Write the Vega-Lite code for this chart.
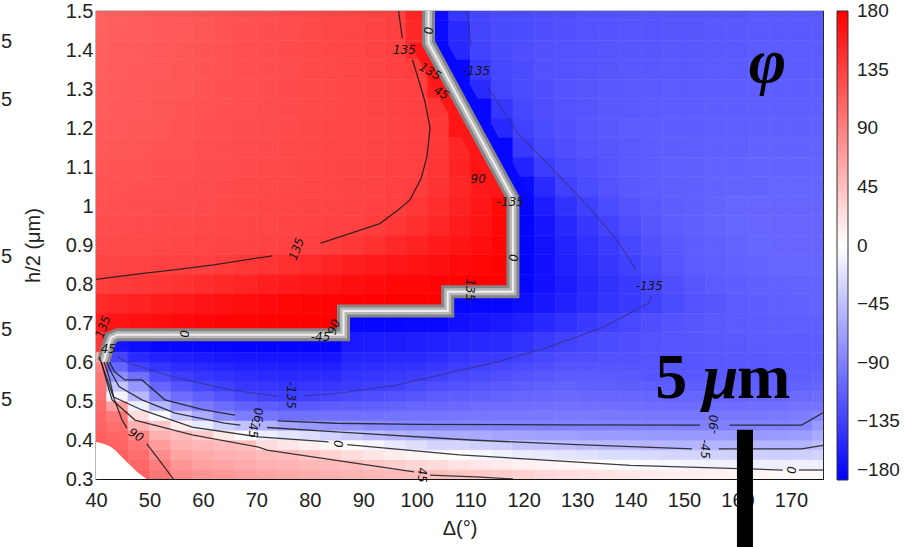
{
"$schema":"https://vega.github.io/schema/vega-lite/v6.json",
"width":727,"height":468,
"autosize":{"type":"none"},
"padding":{"left":96,"top":11,"right":89,"bottom":68},
"background":"white",
"config":{"view":{"stroke":"#111","strokeWidth":1.2},
"axis":{"labelFont":"Liberation Sans","labelFontSize":20,"titleFont":"Liberation Sans","titleFontSize":20,"titleFontWeight":"normal","labelColor":"#222","titleColor":"#222","grid":false,"domain":false,"tickColor":"#222","tickSize":-5,"labelFlush":false,"labelOverlap":false}},
"datasets":{
"lg":[{"v":-180},{"v":180}],
"grid":[
{"d":40,"h":1.5,"v":112},{"d":44,"h":1.5,"v":114},{"d":48,"h":1.5,"v":115},{"d":52,"h":1.5,"v":117},{"d":56,"h":1.5,"v":118},{"d":60,"h":1.5,"v":120},{"d":64,"h":1.5,"v":122},{"d":68,"h":1.5,"v":123},{"d":72,"h":1.5,"v":125},{"d":76,"h":1.5,"v":127},{"d":80,"h":1.5,"v":128},{"d":84,"h":1.5,"v":130},{"d":88,"h":1.5,"v":132},{"d":92,"h":1.5,"v":133},{"d":96,"h":1.5,"v":135},{"d":100,"h":1.5,"v":155},{"d":104,"h":1.5,"v":-172},{"d":108,"h":1.5,"v":-142},{"d":112,"h":1.5,"v":-131},{"d":116,"h":1.5,"v":-128},{"d":120,"h":1.5,"v":-126},{"d":124,"h":1.5,"v":-125},{"d":128,"h":1.5,"v":-124},{"d":132,"h":1.5,"v":-123},{"d":136,"h":1.5,"v":-122},{"d":140,"h":1.5,"v":-121},{"d":144,"h":1.5,"v":-121},{"d":148,"h":1.5,"v":-120},{"d":152,"h":1.5,"v":-120},{"d":156,"h":1.5,"v":-119},{"d":160,"h":1.5,"v":-119},{"d":164,"h":1.5,"v":-118},{"d":168,"h":1.5,"v":-118},{"d":172,"h":1.5,"v":-118},{"d":176,"h":1.5,"v":-118},
{"d":40,"h":1.45,"v":112},{"d":44,"h":1.45,"v":114},{"d":48,"h":1.45,"v":115},{"d":52,"h":1.45,"v":117},{"d":56,"h":1.45,"v":118},{"d":60,"h":1.45,"v":120},{"d":64,"h":1.45,"v":122},{"d":68,"h":1.45,"v":123},{"d":72,"h":1.45,"v":125},{"d":76,"h":1.45,"v":126},{"d":80,"h":1.45,"v":128},{"d":84,"h":1.45,"v":130},{"d":88,"h":1.45,"v":131},{"d":92,"h":1.45,"v":133},{"d":96,"h":1.45,"v":134},{"d":100,"h":1.45,"v":152},{"d":104,"h":1.45,"v":-173},{"d":108,"h":1.45,"v":-150},{"d":112,"h":1.45,"v":-132},{"d":116,"h":1.45,"v":-128},{"d":120,"h":1.45,"v":-126},{"d":124,"h":1.45,"v":-124},{"d":128,"h":1.45,"v":-123},{"d":132,"h":1.45,"v":-122},{"d":136,"h":1.45,"v":-121},{"d":140,"h":1.45,"v":-120},{"d":144,"h":1.45,"v":-120},{"d":148,"h":1.45,"v":-119},{"d":152,"h":1.45,"v":-119},{"d":156,"h":1.45,"v":-118},{"d":160,"h":1.45,"v":-118},{"d":164,"h":1.45,"v":-117},{"d":168,"h":1.45,"v":-117},{"d":172,"h":1.45,"v":-117},{"d":176,"h":1.45,"v":-117},
{"d":40,"h":1.4,"v":113},{"d":44,"h":1.4,"v":115},{"d":48,"h":1.4,"v":116},{"d":52,"h":1.4,"v":118},{"d":56,"h":1.4,"v":119},{"d":60,"h":1.4,"v":121},{"d":64,"h":1.4,"v":122},{"d":68,"h":1.4,"v":124},{"d":72,"h":1.4,"v":125},{"d":76,"h":1.4,"v":127},{"d":80,"h":1.4,"v":128},{"d":84,"h":1.4,"v":130},{"d":88,"h":1.4,"v":131},{"d":92,"h":1.4,"v":133},{"d":96,"h":1.4,"v":134},{"d":100,"h":1.4,"v":148},{"d":104,"h":1.4,"v":-174},{"d":108,"h":1.4,"v":-152},{"d":112,"h":1.4,"v":-133},{"d":116,"h":1.4,"v":-128},{"d":120,"h":1.4,"v":-125},{"d":124,"h":1.4,"v":-123},{"d":128,"h":1.4,"v":-122},{"d":132,"h":1.4,"v":-121},{"d":136,"h":1.4,"v":-120},{"d":140,"h":1.4,"v":-119},{"d":144,"h":1.4,"v":-119},{"d":148,"h":1.4,"v":-118},{"d":152,"h":1.4,"v":-118},{"d":156,"h":1.4,"v":-117},{"d":160,"h":1.4,"v":-117},{"d":164,"h":1.4,"v":-116},{"d":168,"h":1.4,"v":-116},{"d":172,"h":1.4,"v":-116},{"d":176,"h":1.4,"v":-116},
{"d":40,"h":1.35,"v":114},{"d":44,"h":1.35,"v":115},{"d":48,"h":1.35,"v":117},{"d":52,"h":1.35,"v":118},{"d":56,"h":1.35,"v":120},{"d":60,"h":1.35,"v":121},{"d":64,"h":1.35,"v":122},{"d":68,"h":1.35,"v":124},{"d":72,"h":1.35,"v":125},{"d":76,"h":1.35,"v":126},{"d":80,"h":1.35,"v":128},{"d":84,"h":1.35,"v":129},{"d":88,"h":1.35,"v":131},{"d":92,"h":1.35,"v":132},{"d":96,"h":1.35,"v":134},{"d":100,"h":1.35,"v":137},{"d":104,"h":1.35,"v":162},{"d":108,"h":1.35,"v":-174},{"d":112,"h":1.35,"v":-140},{"d":116,"h":1.35,"v":-130},{"d":120,"h":1.35,"v":-126},{"d":124,"h":1.35,"v":-123},{"d":128,"h":1.35,"v":-122},{"d":132,"h":1.35,"v":-120},{"d":136,"h":1.35,"v":-119},{"d":140,"h":1.35,"v":-118},{"d":144,"h":1.35,"v":-118},{"d":148,"h":1.35,"v":-117},{"d":152,"h":1.35,"v":-117},{"d":156,"h":1.35,"v":-116},{"d":160,"h":1.35,"v":-116},{"d":164,"h":1.35,"v":-115},{"d":168,"h":1.35,"v":-115},{"d":172,"h":1.35,"v":-115},{"d":176,"h":1.35,"v":-115},
{"d":40,"h":1.3,"v":115},{"d":44,"h":1.3,"v":116},{"d":48,"h":1.3,"v":118},{"d":52,"h":1.3,"v":119},{"d":56,"h":1.3,"v":120},{"d":60,"h":1.3,"v":121},{"d":64,"h":1.3,"v":123},{"d":68,"h":1.3,"v":124},{"d":72,"h":1.3,"v":125},{"d":76,"h":1.3,"v":127},{"d":80,"h":1.3,"v":128},{"d":84,"h":1.3,"v":129},{"d":88,"h":1.3,"v":131},{"d":92,"h":1.3,"v":132},{"d":96,"h":1.3,"v":133},{"d":100,"h":1.3,"v":135},{"d":104,"h":1.3,"v":158},{"d":108,"h":1.3,"v":-175},{"d":112,"h":1.3,"v":-150},{"d":116,"h":1.3,"v":-132},{"d":120,"h":1.3,"v":-127},{"d":124,"h":1.3,"v":-124},{"d":128,"h":1.3,"v":-121},{"d":132,"h":1.3,"v":-119},{"d":136,"h":1.3,"v":-118},{"d":140,"h":1.3,"v":-117},{"d":144,"h":1.3,"v":-117},{"d":148,"h":1.3,"v":-116},{"d":152,"h":1.3,"v":-116},{"d":156,"h":1.3,"v":-115},{"d":160,"h":1.3,"v":-115},{"d":164,"h":1.3,"v":-114},{"d":168,"h":1.3,"v":-114},{"d":172,"h":1.3,"v":-114},{"d":176,"h":1.3,"v":-114},
{"d":40,"h":1.25,"v":116},{"d":44,"h":1.25,"v":117},{"d":48,"h":1.25,"v":118},{"d":52,"h":1.25,"v":120},{"d":56,"h":1.25,"v":121},{"d":60,"h":1.25,"v":122},{"d":64,"h":1.25,"v":123},{"d":68,"h":1.25,"v":124},{"d":72,"h":1.25,"v":126},{"d":76,"h":1.25,"v":127},{"d":80,"h":1.25,"v":128},{"d":84,"h":1.25,"v":129},{"d":88,"h":1.25,"v":131},{"d":92,"h":1.25,"v":132},{"d":96,"h":1.25,"v":133},{"d":100,"h":1.25,"v":134},{"d":104,"h":1.25,"v":142},{"d":108,"h":1.25,"v":168},{"d":112,"h":1.25,"v":-175},{"d":116,"h":1.25,"v":-142},{"d":120,"h":1.25,"v":-130},{"d":124,"h":1.25,"v":-125},{"d":128,"h":1.25,"v":-122},{"d":132,"h":1.25,"v":-120},{"d":136,"h":1.25,"v":-118},{"d":140,"h":1.25,"v":-117},{"d":144,"h":1.25,"v":-116},{"d":148,"h":1.25,"v":-115},{"d":152,"h":1.25,"v":-115},{"d":156,"h":1.25,"v":-114},{"d":160,"h":1.25,"v":-114},{"d":164,"h":1.25,"v":-113},{"d":168,"h":1.25,"v":-113},{"d":172,"h":1.25,"v":-113},{"d":176,"h":1.25,"v":-113},
{"d":40,"h":1.2,"v":117},{"d":44,"h":1.2,"v":118},{"d":48,"h":1.2,"v":119},{"d":52,"h":1.2,"v":120},{"d":56,"h":1.2,"v":122},{"d":60,"h":1.2,"v":123},{"d":64,"h":1.2,"v":124},{"d":68,"h":1.2,"v":125},{"d":72,"h":1.2,"v":126},{"d":76,"h":1.2,"v":127},{"d":80,"h":1.2,"v":129},{"d":84,"h":1.2,"v":130},{"d":88,"h":1.2,"v":131},{"d":92,"h":1.2,"v":132},{"d":96,"h":1.2,"v":133},{"d":100,"h":1.2,"v":134},{"d":104,"h":1.2,"v":140},{"d":108,"h":1.2,"v":165},{"d":112,"h":1.2,"v":-176},{"d":116,"h":1.2,"v":-152},{"d":120,"h":1.2,"v":-134},{"d":124,"h":1.2,"v":-127},{"d":128,"h":1.2,"v":-123},{"d":132,"h":1.2,"v":-120},{"d":136,"h":1.2,"v":-118},{"d":140,"h":1.2,"v":-116},{"d":144,"h":1.2,"v":-115},{"d":148,"h":1.2,"v":-114},{"d":152,"h":1.2,"v":-114},{"d":156,"h":1.2,"v":-113},{"d":160,"h":1.2,"v":-113},{"d":164,"h":1.2,"v":-112},{"d":168,"h":1.2,"v":-112},{"d":172,"h":1.2,"v":-112},{"d":176,"h":1.2,"v":-112},
{"d":40,"h":1.15,"v":118},{"d":44,"h":1.15,"v":119},{"d":48,"h":1.15,"v":120},{"d":52,"h":1.15,"v":121},{"d":56,"h":1.15,"v":122},{"d":60,"h":1.15,"v":124},{"d":64,"h":1.15,"v":125},{"d":68,"h":1.15,"v":126},{"d":72,"h":1.15,"v":127},{"d":76,"h":1.15,"v":128},{"d":80,"h":1.15,"v":129},{"d":84,"h":1.15,"v":130},{"d":88,"h":1.15,"v":131},{"d":92,"h":1.15,"v":132},{"d":96,"h":1.15,"v":133},{"d":100,"h":1.15,"v":134},{"d":104,"h":1.15,"v":140},{"d":108,"h":1.15,"v":153},{"d":112,"h":1.15,"v":170},{"d":116,"h":1.15,"v":-176},{"d":120,"h":1.15,"v":-140},{"d":124,"h":1.15,"v":-130},{"d":128,"h":1.15,"v":-125},{"d":132,"h":1.15,"v":-121},{"d":136,"h":1.15,"v":-119},{"d":140,"h":1.15,"v":-117},{"d":144,"h":1.15,"v":-115},{"d":148,"h":1.15,"v":-114},{"d":152,"h":1.15,"v":-113},{"d":156,"h":1.15,"v":-112},{"d":160,"h":1.15,"v":-112},{"d":164,"h":1.15,"v":-111},{"d":168,"h":1.15,"v":-111},{"d":172,"h":1.15,"v":-111},{"d":176,"h":1.15,"v":-111},
{"d":40,"h":1.1,"v":120},{"d":44,"h":1.1,"v":121},{"d":48,"h":1.1,"v":122},{"d":52,"h":1.1,"v":123},{"d":56,"h":1.1,"v":124},{"d":60,"h":1.1,"v":125},{"d":64,"h":1.1,"v":126},{"d":68,"h":1.1,"v":127},{"d":72,"h":1.1,"v":128},{"d":76,"h":1.1,"v":129},{"d":80,"h":1.1,"v":130},{"d":84,"h":1.1,"v":131},{"d":88,"h":1.1,"v":132},{"d":92,"h":1.1,"v":133},{"d":96,"h":1.1,"v":134},{"d":100,"h":1.1,"v":135},{"d":104,"h":1.1,"v":143},{"d":108,"h":1.1,"v":155},{"d":112,"h":1.1,"v":168},{"d":116,"h":1.1,"v":-176},{"d":120,"h":1.1,"v":-155},{"d":124,"h":1.1,"v":-137},{"d":128,"h":1.1,"v":-129},{"d":132,"h":1.1,"v":-124},{"d":136,"h":1.1,"v":-120},{"d":140,"h":1.1,"v":-117},{"d":144,"h":1.1,"v":-115},{"d":148,"h":1.1,"v":-113},{"d":152,"h":1.1,"v":-112},{"d":156,"h":1.1,"v":-111},{"d":160,"h":1.1,"v":-111},{"d":164,"h":1.1,"v":-110},{"d":168,"h":1.1,"v":-110},{"d":172,"h":1.1,"v":-110},{"d":176,"h":1.1,"v":-110},
{"d":40,"h":1.05,"v":121},{"d":44,"h":1.05,"v":122},{"d":48,"h":1.05,"v":123},{"d":52,"h":1.05,"v":124},{"d":56,"h":1.05,"v":125},{"d":60,"h":1.05,"v":126},{"d":64,"h":1.05,"v":127},{"d":68,"h":1.05,"v":128},{"d":72,"h":1.05,"v":129},{"d":76,"h":1.05,"v":129},{"d":80,"h":1.05,"v":130},{"d":84,"h":1.05,"v":131},{"d":88,"h":1.05,"v":132},{"d":92,"h":1.05,"v":133},{"d":96,"h":1.05,"v":134},{"d":100,"h":1.05,"v":136},{"d":104,"h":1.05,"v":144},{"d":108,"h":1.05,"v":153},{"d":112,"h":1.05,"v":162},{"d":116,"h":1.05,"v":173},{"d":120,"h":1.05,"v":-172},{"d":124,"h":1.05,"v":-150},{"d":128,"h":1.05,"v":-135},{"d":132,"h":1.05,"v":-127},{"d":136,"h":1.05,"v":-122},{"d":140,"h":1.05,"v":-118},{"d":144,"h":1.05,"v":-115},{"d":148,"h":1.05,"v":-113},{"d":152,"h":1.05,"v":-112},{"d":156,"h":1.05,"v":-111},{"d":160,"h":1.05,"v":-110},{"d":164,"h":1.05,"v":-110},{"d":168,"h":1.05,"v":-109},{"d":172,"h":1.05,"v":-109},{"d":176,"h":1.05,"v":-109},
{"d":40,"h":1.0,"v":123},{"d":44,"h":1.0,"v":124},{"d":48,"h":1.0,"v":125},{"d":52,"h":1.0,"v":126},{"d":56,"h":1.0,"v":126},{"d":60,"h":1.0,"v":127},{"d":64,"h":1.0,"v":128},{"d":68,"h":1.0,"v":129},{"d":72,"h":1.0,"v":130},{"d":76,"h":1.0,"v":131},{"d":80,"h":1.0,"v":132},{"d":84,"h":1.0,"v":132},{"d":88,"h":1.0,"v":133},{"d":92,"h":1.0,"v":134},{"d":96,"h":1.0,"v":135},{"d":100,"h":1.0,"v":141},{"d":104,"h":1.0,"v":148},{"d":108,"h":1.0,"v":156},{"d":112,"h":1.0,"v":164},{"d":116,"h":1.0,"v":174},{"d":120,"h":1.0,"v":-176},{"d":124,"h":1.0,"v":-160},{"d":128,"h":1.0,"v":-145},{"d":132,"h":1.0,"v":-135},{"d":136,"h":1.0,"v":-127},{"d":140,"h":1.0,"v":-121},{"d":144,"h":1.0,"v":-117},{"d":148,"h":1.0,"v":-114},{"d":152,"h":1.0,"v":-112},{"d":156,"h":1.0,"v":-110},{"d":160,"h":1.0,"v":-109},{"d":164,"h":1.0,"v":-108},{"d":168,"h":1.0,"v":-108},{"d":172,"h":1.0,"v":-108},{"d":176,"h":1.0,"v":-108},
{"d":40,"h":0.95,"v":125},{"d":44,"h":0.95,"v":126},{"d":48,"h":0.95,"v":127},{"d":52,"h":0.95,"v":127},{"d":56,"h":0.95,"v":128},{"d":60,"h":0.95,"v":129},{"d":64,"h":0.95,"v":130},{"d":68,"h":0.95,"v":131},{"d":72,"h":0.95,"v":131},{"d":76,"h":0.95,"v":132},{"d":80,"h":0.95,"v":133},{"d":84,"h":0.95,"v":134},{"d":88,"h":0.95,"v":134},{"d":92,"h":0.95,"v":136},{"d":96,"h":0.95,"v":141},{"d":100,"h":0.95,"v":147},{"d":104,"h":0.95,"v":153},{"d":108,"h":0.95,"v":160},{"d":112,"h":0.95,"v":167},{"d":116,"h":0.95,"v":175},{"d":120,"h":0.95,"v":-177},{"d":124,"h":0.95,"v":-165},{"d":128,"h":0.95,"v":-152},{"d":132,"h":0.95,"v":-141},{"d":136,"h":0.95,"v":-133},{"d":140,"h":0.95,"v":-125},{"d":144,"h":0.95,"v":-119},{"d":148,"h":0.95,"v":-115},{"d":152,"h":0.95,"v":-112},{"d":156,"h":0.95,"v":-110},{"d":160,"h":0.95,"v":-109},{"d":164,"h":0.95,"v":-108},{"d":168,"h":0.95,"v":-108},{"d":172,"h":0.95,"v":-108},{"d":176,"h":0.95,"v":-108},
{"d":40,"h":0.9,"v":127},{"d":44,"h":0.9,"v":128},{"d":48,"h":0.9,"v":128},{"d":52,"h":0.9,"v":129},{"d":56,"h":0.9,"v":130},{"d":60,"h":0.9,"v":131},{"d":64,"h":0.9,"v":132},{"d":68,"h":0.9,"v":132},{"d":72,"h":0.9,"v":133},{"d":76,"h":0.9,"v":134},{"d":80,"h":0.9,"v":135},{"d":84,"h":0.9,"v":137},{"d":88,"h":0.9,"v":141},{"d":92,"h":0.9,"v":146},{"d":96,"h":0.9,"v":151},{"d":100,"h":0.9,"v":156},{"d":104,"h":0.9,"v":161},{"d":108,"h":0.9,"v":166},{"d":112,"h":0.9,"v":171},{"d":116,"h":0.9,"v":176},{"d":120,"h":0.9,"v":-177},{"d":124,"h":0.9,"v":-167},{"d":128,"h":0.9,"v":-156},{"d":132,"h":0.9,"v":-146},{"d":136,"h":0.9,"v":-138},{"d":140,"h":0.9,"v":-130},{"d":144,"h":0.9,"v":-123},{"d":148,"h":0.9,"v":-118},{"d":152,"h":0.9,"v":-114},{"d":156,"h":0.9,"v":-112},{"d":160,"h":0.9,"v":-110},{"d":164,"h":0.9,"v":-109},{"d":168,"h":0.9,"v":-108},{"d":172,"h":0.9,"v":-108},{"d":176,"h":0.9,"v":-108},
{"d":40,"h":0.85,"v":132},{"d":44,"h":0.85,"v":132},{"d":48,"h":0.85,"v":133},{"d":52,"h":0.85,"v":134},{"d":56,"h":0.85,"v":134},{"d":60,"h":0.85,"v":135},{"d":64,"h":0.85,"v":137},{"d":68,"h":0.85,"v":140},{"d":72,"h":0.85,"v":143},{"d":76,"h":0.85,"v":146},{"d":80,"h":0.85,"v":150},{"d":84,"h":0.85,"v":154},{"d":88,"h":0.85,"v":158},{"d":92,"h":0.85,"v":161},{"d":96,"h":0.85,"v":164},{"d":100,"h":0.85,"v":167},{"d":104,"h":0.85,"v":170},{"d":108,"h":0.85,"v":172},{"d":112,"h":0.85,"v":175},{"d":116,"h":0.85,"v":178},{"d":120,"h":0.85,"v":-177},{"d":124,"h":0.85,"v":-168},{"d":128,"h":0.85,"v":-158},{"d":132,"h":0.85,"v":-149},{"d":136,"h":0.85,"v":-141},{"d":140,"h":0.85,"v":-135},{"d":144,"h":0.85,"v":-126},{"d":148,"h":0.85,"v":-120},{"d":152,"h":0.85,"v":-116},{"d":156,"h":0.85,"v":-113},{"d":160,"h":0.85,"v":-111},{"d":164,"h":0.85,"v":-110},{"d":168,"h":0.85,"v":-109},{"d":172,"h":0.85,"v":-109},{"d":176,"h":0.85,"v":-109},
{"d":40,"h":0.8,"v":136},{"d":44,"h":0.8,"v":138},{"d":48,"h":0.8,"v":140},{"d":52,"h":0.8,"v":142},{"d":56,"h":0.8,"v":145},{"d":60,"h":0.8,"v":148},{"d":64,"h":0.8,"v":151},{"d":68,"h":0.8,"v":154},{"d":72,"h":0.8,"v":158},{"d":76,"h":0.8,"v":161},{"d":80,"h":0.8,"v":164},{"d":84,"h":0.8,"v":167},{"d":88,"h":0.8,"v":170},{"d":92,"h":0.8,"v":172},{"d":96,"h":0.8,"v":174},{"d":100,"h":0.8,"v":175},{"d":104,"h":0.8,"v":177},{"d":108,"h":0.8,"v":178},{"d":112,"h":0.8,"v":179},{"d":116,"h":0.8,"v":179},{"d":120,"h":0.8,"v":-176},{"d":124,"h":0.8,"v":-168},{"d":128,"h":0.8,"v":-160},{"d":132,"h":0.8,"v":-152},{"d":136,"h":0.8,"v":-145},{"d":140,"h":0.8,"v":-139},{"d":144,"h":0.8,"v":-131},{"d":148,"h":0.8,"v":-124},{"d":152,"h":0.8,"v":-119},{"d":156,"h":0.8,"v":-116},{"d":160,"h":0.8,"v":-114},{"d":164,"h":0.8,"v":-112},{"d":168,"h":0.8,"v":-111},{"d":172,"h":0.8,"v":-110},{"d":176,"h":0.8,"v":-110},
{"d":40,"h":0.75,"v":150},{"d":44,"h":0.75,"v":153},{"d":48,"h":0.75,"v":156},{"d":52,"h":0.75,"v":159},{"d":56,"h":0.75,"v":162},{"d":60,"h":0.75,"v":165},{"d":64,"h":0.75,"v":168},{"d":68,"h":0.75,"v":170},{"d":72,"h":0.75,"v":172},{"d":76,"h":0.75,"v":174},{"d":80,"h":0.75,"v":176},{"d":84,"h":0.75,"v":177},{"d":88,"h":0.75,"v":178},{"d":92,"h":0.75,"v":179},{"d":96,"h":0.75,"v":179},{"d":100,"h":0.75,"v":179},{"d":104,"h":0.75,"v":179},{"d":108,"h":0.75,"v":-176},{"d":112,"h":0.75,"v":-176},{"d":116,"h":0.75,"v":-175},{"d":120,"h":0.75,"v":-170},{"d":124,"h":0.75,"v":-164},{"d":128,"h":0.75,"v":-157},{"d":132,"h":0.75,"v":-150},{"d":136,"h":0.75,"v":-144},{"d":140,"h":0.75,"v":-139},{"d":144,"h":0.75,"v":-134},{"d":148,"h":0.75,"v":-127},{"d":152,"h":0.75,"v":-122},{"d":156,"h":0.75,"v":-119},{"d":160,"h":0.75,"v":-116},{"d":164,"h":0.75,"v":-114},{"d":168,"h":0.75,"v":-112},{"d":172,"h":0.75,"v":-111},{"d":176,"h":0.75,"v":-111},
{"d":40,"h":0.7,"v":160},{"d":44,"h":0.7,"v":166},{"d":48,"h":0.7,"v":169},{"d":52,"h":0.7,"v":171},{"d":56,"h":0.7,"v":173},{"d":60,"h":0.7,"v":175},{"d":64,"h":0.7,"v":176},{"d":68,"h":0.7,"v":177},{"d":72,"h":0.7,"v":178},{"d":76,"h":0.7,"v":179},{"d":80,"h":0.7,"v":179},{"d":84,"h":0.7,"v":179},{"d":88,"h":0.7,"v":-175},{"d":92,"h":0.7,"v":-175},{"d":96,"h":0.7,"v":-175},{"d":100,"h":0.7,"v":-174},{"d":104,"h":0.7,"v":-174},{"d":108,"h":0.7,"v":-169},{"d":112,"h":0.7,"v":-166},{"d":116,"h":0.7,"v":-162},{"d":120,"h":0.7,"v":-158},{"d":124,"h":0.7,"v":-152},{"d":128,"h":0.7,"v":-146},{"d":132,"h":0.7,"v":-140},{"d":136,"h":0.7,"v":-134},{"d":140,"h":0.7,"v":-129},{"d":144,"h":0.7,"v":-125},{"d":148,"h":0.7,"v":-121},{"d":152,"h":0.7,"v":-119},{"d":156,"h":0.7,"v":-117},{"d":160,"h":0.7,"v":-116},{"d":164,"h":0.7,"v":-115},{"d":168,"h":0.7,"v":-114},{"d":172,"h":0.7,"v":-113},{"d":176,"h":0.7,"v":-113},
{"d":40,"h":0.65,"v":140},{"d":44,"h":0.65,"v":-165},{"d":48,"h":0.65,"v":-170},{"d":52,"h":0.65,"v":-175},{"d":56,"h":0.65,"v":-175},{"d":60,"h":0.65,"v":-176},{"d":64,"h":0.65,"v":-176},{"d":68,"h":0.65,"v":-177},{"d":72,"h":0.65,"v":-177},{"d":76,"h":0.65,"v":-177},{"d":80,"h":0.65,"v":-177},{"d":84,"h":0.65,"v":-177},{"d":88,"h":0.65,"v":-162},{"d":92,"h":0.65,"v":-161},{"d":96,"h":0.65,"v":-160},{"d":100,"h":0.65,"v":-159},{"d":104,"h":0.65,"v":-158},{"d":108,"h":0.65,"v":-154},{"d":112,"h":0.65,"v":-152},{"d":116,"h":0.65,"v":-150},{"d":120,"h":0.65,"v":-145},{"d":124,"h":0.65,"v":-138},{"d":128,"h":0.65,"v":-134},{"d":132,"h":0.65,"v":-130},{"d":136,"h":0.65,"v":-127},{"d":140,"h":0.65,"v":-124},{"d":144,"h":0.65,"v":-122},{"d":148,"h":0.65,"v":-120},{"d":152,"h":0.65,"v":-119},{"d":156,"h":0.65,"v":-118},{"d":160,"h":0.65,"v":-117},{"d":164,"h":0.65,"v":-116},{"d":168,"h":0.65,"v":-115},{"d":172,"h":0.65,"v":-115},{"d":176,"h":0.65,"v":-115}
],
"fine":[
{"d":40,"h":0.3125,"v":115},{"d":44,"h":0.3125,"v":115},{"d":48,"h":0.3125,"v":112},{"d":52,"h":0.3125,"v":97},{"d":56,"h":0.3125,"v":82},{"d":60,"h":0.3125,"v":76},{"d":64,"h":0.3125,"v":72},{"d":68,"h":0.3125,"v":68},{"d":72,"h":0.3125,"v":64},{"d":76,"h":0.3125,"v":61},{"d":80,"h":0.3125,"v":58},{"d":84,"h":0.3125,"v":56},{"d":88,"h":0.3125,"v":53},{"d":92,"h":0.3125,"v":50},{"d":96,"h":0.3125,"v":48},{"d":100,"h":0.3125,"v":46},{"d":104,"h":0.3125,"v":45},{"d":108,"h":0.3125,"v":40},{"d":112,"h":0.3125,"v":39},{"d":116,"h":0.3125,"v":35},{"d":120,"h":0.3125,"v":31},{"d":124,"h":0.3125,"v":27},{"d":128,"h":0.3125,"v":24},{"d":132,"h":0.3125,"v":21},{"d":136,"h":0.3125,"v":18},{"d":140,"h":0.3125,"v":16},{"d":144,"h":0.3125,"v":14},{"d":148,"h":0.3125,"v":12},{"d":152,"h":0.3125,"v":11},{"d":156,"h":0.3125,"v":10},{"d":160,"h":0.3125,"v":8},{"d":164,"h":0.3125,"v":6},{"d":168,"h":0.3125,"v":5},{"d":172,"h":0.3125,"v":5},{"d":176,"h":0.3125,"v":5},
{"d":40,"h":0.3375,"v":115},{"d":44,"h":0.3375,"v":115},{"d":48,"h":0.3375,"v":108},{"d":52,"h":0.3375,"v":92},{"d":56,"h":0.3375,"v":74},{"d":60,"h":0.3375,"v":68},{"d":64,"h":0.3375,"v":64},{"d":68,"h":0.3375,"v":60},{"d":72,"h":0.3375,"v":56},{"d":76,"h":0.3375,"v":54},{"d":80,"h":0.3375,"v":51},{"d":84,"h":0.3375,"v":49},{"d":88,"h":0.3375,"v":46},{"d":92,"h":0.3375,"v":40},{"d":96,"h":0.3375,"v":34},{"d":100,"h":0.3375,"v":29},{"d":104,"h":0.3375,"v":25},{"d":108,"h":0.3375,"v":20},{"d":112,"h":0.3375,"v":17},{"d":116,"h":0.3375,"v":14},{"d":120,"h":0.3375,"v":10},{"d":124,"h":0.3375,"v":8},{"d":128,"h":0.3375,"v":6},{"d":132,"h":0.3375,"v":4},{"d":136,"h":0.3375,"v":0},{"d":140,"h":0.3375,"v":-2},{"d":144,"h":0.3375,"v":-4},{"d":148,"h":0.3375,"v":-6},{"d":152,"h":0.3375,"v":-7},{"d":156,"h":0.3375,"v":-9},{"d":160,"h":0.3375,"v":-10},{"d":164,"h":0.3375,"v":-11},{"d":168,"h":0.3375,"v":-12},{"d":172,"h":0.3375,"v":-12},{"d":176,"h":0.3375,"v":-12},
{"d":40,"h":0.3625,"v":115},{"d":44,"h":0.3625,"v":113},{"d":48,"h":0.3625,"v":103},{"d":52,"h":0.3625,"v":81},{"d":56,"h":0.3625,"v":65},{"d":60,"h":0.3625,"v":60},{"d":64,"h":0.3625,"v":56},{"d":68,"h":0.3625,"v":53},{"d":72,"h":0.3625,"v":49},{"d":76,"h":0.3625,"v":46},{"d":80,"h":0.3625,"v":40},{"d":84,"h":0.3625,"v":32},{"d":88,"h":0.3625,"v":24},{"d":92,"h":0.3625,"v":18},{"d":96,"h":0.3625,"v":13},{"d":100,"h":0.3625,"v":8},{"d":104,"h":0.3625,"v":4},{"d":108,"h":0.3625,"v":0},{"d":112,"h":0.3625,"v":-5},{"d":116,"h":0.3625,"v":-9},{"d":120,"h":0.3625,"v":-14},{"d":124,"h":0.3625,"v":-16},{"d":128,"h":0.3625,"v":-19},{"d":132,"h":0.3625,"v":-22},{"d":136,"h":0.3625,"v":-25},{"d":140,"h":0.3625,"v":-26},{"d":144,"h":0.3625,"v":-28},{"d":148,"h":0.3625,"v":-30},{"d":152,"h":0.3625,"v":-31},{"d":156,"h":0.3625,"v":-32},{"d":160,"h":0.3625,"v":-33},{"d":164,"h":0.3625,"v":-34},{"d":168,"h":0.3625,"v":-35},{"d":172,"h":0.3625,"v":-34},{"d":176,"h":0.3625,"v":-31},
{"d":40,"h":0.3875,"v":115},{"d":44,"h":0.3875,"v":110},{"d":48,"h":0.3875,"v":97},{"d":52,"h":0.3875,"v":69},{"d":56,"h":0.3875,"v":56},{"d":60,"h":0.3875,"v":52},{"d":64,"h":0.3875,"v":48},{"d":68,"h":0.3875,"v":45},{"d":72,"h":0.3875,"v":25},{"d":76,"h":0.3875,"v":18},{"d":80,"h":0.3875,"v":12},{"d":84,"h":0.3875,"v":6},{"d":88,"h":0.3875,"v":0},{"d":92,"h":0.3875,"v":-7},{"d":96,"h":0.3875,"v":-16},{"d":100,"h":0.3875,"v":-23},{"d":104,"h":0.3875,"v":-30},{"d":108,"h":0.3875,"v":-30},{"d":112,"h":0.3875,"v":-34},{"d":116,"h":0.3875,"v":-37},{"d":120,"h":0.3875,"v":-42},{"d":124,"h":0.3875,"v":-44},{"d":128,"h":0.3875,"v":-46},{"d":132,"h":0.3875,"v":-48},{"d":136,"h":0.3875,"v":-50},{"d":140,"h":0.3875,"v":-51},{"d":144,"h":0.3875,"v":-52},{"d":148,"h":0.3875,"v":-53},{"d":152,"h":0.3875,"v":-53},{"d":156,"h":0.3875,"v":-53},{"d":160,"h":0.3875,"v":-53},{"d":164,"h":0.3875,"v":-53},{"d":168,"h":0.3875,"v":-53},{"d":172,"h":0.3875,"v":-52},{"d":176,"h":0.3875,"v":-47},
{"d":40,"h":0.4125,"v":113},{"d":44,"h":0.4125,"v":107},{"d":48,"h":0.4125,"v":86},{"d":52,"h":0.4125,"v":56},{"d":56,"h":0.4125,"v":47},{"d":60,"h":0.4125,"v":36},{"d":64,"h":0.4125,"v":16},{"d":68,"h":0.4125,"v":1},{"d":72,"h":0.4125,"v":-13},{"d":76,"h":0.4125,"v":-19},{"d":80,"h":0.4125,"v":-24},{"d":84,"h":0.4125,"v":-32},{"d":88,"h":0.4125,"v":-39},{"d":92,"h":0.4125,"v":-47},{"d":96,"h":0.4125,"v":-53},{"d":100,"h":0.4125,"v":-57},{"d":104,"h":0.4125,"v":-60},{"d":108,"h":0.4125,"v":-59},{"d":112,"h":0.4125,"v":-61},{"d":116,"h":0.4125,"v":-64},{"d":120,"h":0.4125,"v":-65},{"d":124,"h":0.4125,"v":-67},{"d":128,"h":0.4125,"v":-68},{"d":132,"h":0.4125,"v":-70},{"d":136,"h":0.4125,"v":-70},{"d":140,"h":0.4125,"v":-71},{"d":144,"h":0.4125,"v":-72},{"d":148,"h":0.4125,"v":-72},{"d":152,"h":0.4125,"v":-72},{"d":156,"h":0.4125,"v":-72},{"d":160,"h":0.4125,"v":-72},{"d":164,"h":0.4125,"v":-72},{"d":168,"h":0.4125,"v":-71},{"d":172,"h":0.4125,"v":-69},{"d":176,"h":0.4125,"v":-60},
{"d":40,"h":0.4375,"v":110},{"d":44,"h":0.4375,"v":102},{"d":48,"h":0.4375,"v":56},{"d":52,"h":0.4375,"v":39},{"d":56,"h":0.4375,"v":13},{"d":60,"h":0.4375,"v":-15},{"d":64,"h":0.4375,"v":-34},{"d":68,"h":0.4375,"v":-44},{"d":72,"h":0.4375,"v":-55},{"d":76,"h":0.4375,"v":-66},{"d":80,"h":0.4375,"v":-71},{"d":84,"h":0.4375,"v":-75},{"d":88,"h":0.4375,"v":-78},{"d":92,"h":0.4375,"v":-82},{"d":96,"h":0.4375,"v":-85},{"d":100,"h":0.4375,"v":-87},{"d":104,"h":0.4375,"v":-87},{"d":108,"h":0.4375,"v":-87},{"d":112,"h":0.4375,"v":-87},{"d":116,"h":0.4375,"v":-88},{"d":120,"h":0.4375,"v":-88},{"d":124,"h":0.4375,"v":-89},{"d":128,"h":0.4375,"v":-89},{"d":132,"h":0.4375,"v":-89},{"d":136,"h":0.4375,"v":-90},{"d":140,"h":0.4375,"v":-90},{"d":144,"h":0.4375,"v":-90},{"d":148,"h":0.4375,"v":-90},{"d":152,"h":0.4375,"v":-90},{"d":156,"h":0.4375,"v":-90},{"d":160,"h":0.4375,"v":-90},{"d":164,"h":0.4375,"v":-90},{"d":168,"h":0.4375,"v":-89},{"d":172,"h":0.4375,"v":-86},{"d":176,"h":0.4375,"v":-72},
{"d":40,"h":0.4625,"v":107},{"d":44,"h":0.4625,"v":96},{"d":48,"h":0.4625,"v":25},{"d":52,"h":0.4625,"v":-3},{"d":56,"h":0.4625,"v":-37},{"d":60,"h":0.4625,"v":-59},{"d":64,"h":0.4625,"v":-81},{"d":68,"h":0.4625,"v":-92},{"d":72,"h":0.4625,"v":-97},{"d":76,"h":0.4625,"v":-100},{"d":80,"h":0.4625,"v":-100},{"d":84,"h":0.4625,"v":-100},{"d":88,"h":0.4625,"v":-100},{"d":92,"h":0.4625,"v":-100},{"d":96,"h":0.4625,"v":-99},{"d":100,"h":0.4625,"v":-99},{"d":104,"h":0.4625,"v":-98},{"d":108,"h":0.4625,"v":-97},{"d":112,"h":0.4625,"v":-97},{"d":116,"h":0.4625,"v":-96},{"d":120,"h":0.4625,"v":-96},{"d":124,"h":0.4625,"v":-95},{"d":128,"h":0.4625,"v":-94},{"d":132,"h":0.4625,"v":-94},{"d":136,"h":0.4625,"v":-95},{"d":140,"h":0.4625,"v":-95},{"d":144,"h":0.4625,"v":-95},{"d":148,"h":0.4625,"v":-95},{"d":152,"h":0.4625,"v":-95},{"d":156,"h":0.4625,"v":-95},{"d":160,"h":0.4625,"v":-95},{"d":164,"h":0.4625,"v":-95},{"d":168,"h":0.4625,"v":-94},{"d":172,"h":0.4625,"v":-92},{"d":176,"h":0.4625,"v":-86},
{"d":40,"h":0.4875,"v":104},{"d":44,"h":0.4875,"v":68},{"d":48,"h":0.4875,"v":-11},{"d":52,"h":0.4875,"v":-50},{"d":56,"h":0.4875,"v":-79},{"d":60,"h":0.4875,"v":-94},{"d":64,"h":0.4875,"v":-104},{"d":68,"h":0.4875,"v":-111},{"d":72,"h":0.4875,"v":-115},{"d":76,"h":0.4875,"v":-118},{"d":80,"h":0.4875,"v":-117},{"d":84,"h":0.4875,"v":-115},{"d":88,"h":0.4875,"v":-114},{"d":92,"h":0.4875,"v":-112},{"d":96,"h":0.4875,"v":-111},{"d":100,"h":0.4875,"v":-109},{"d":104,"h":0.4875,"v":-107},{"d":108,"h":0.4875,"v":-106},{"d":112,"h":0.4875,"v":-104},{"d":116,"h":0.4875,"v":-103},{"d":120,"h":0.4875,"v":-102},{"d":124,"h":0.4875,"v":-101},{"d":128,"h":0.4875,"v":-100},{"d":132,"h":0.4875,"v":-101},{"d":136,"h":0.4875,"v":-101},{"d":140,"h":0.4875,"v":-102},{"d":144,"h":0.4875,"v":-103},{"d":148,"h":0.4875,"v":-103},{"d":152,"h":0.4875,"v":-103},{"d":156,"h":0.4875,"v":-103},{"d":160,"h":0.4875,"v":-103},{"d":164,"h":0.4875,"v":-102},{"d":168,"h":0.4875,"v":-101},{"d":172,"h":0.4875,"v":-99},{"d":176,"h":0.4875,"v":-98},
{"d":40,"h":0.5125,"v":101},{"d":44,"h":0.5125,"v":-9},{"d":48,"h":0.5125,"v":-50},{"d":52,"h":0.5125,"v":-88},{"d":56,"h":0.5125,"v":-103},{"d":60,"h":0.5125,"v":-112},{"d":64,"h":0.5125,"v":-121},{"d":68,"h":0.5125,"v":-129},{"d":72,"h":0.5125,"v":-134},{"d":76,"h":0.5125,"v":-136},{"d":80,"h":0.5125,"v":-134},{"d":84,"h":0.5125,"v":-131},{"d":88,"h":0.5125,"v":-128},{"d":92,"h":0.5125,"v":-125},{"d":96,"h":0.5125,"v":-122},{"d":100,"h":0.5125,"v":-119},{"d":104,"h":0.5125,"v":-116},{"d":108,"h":0.5125,"v":-114},{"d":112,"h":0.5125,"v":-112},{"d":116,"h":0.5125,"v":-110},{"d":120,"h":0.5125,"v":-108},{"d":124,"h":0.5125,"v":-107},{"d":128,"h":0.5125,"v":-106},{"d":132,"h":0.5125,"v":-107},{"d":136,"h":0.5125,"v":-107},{"d":140,"h":0.5125,"v":-108},{"d":144,"h":0.5125,"v":-109},{"d":148,"h":0.5125,"v":-109},{"d":152,"h":0.5125,"v":-109},{"d":156,"h":0.5125,"v":-109},{"d":160,"h":0.5125,"v":-108},{"d":164,"h":0.5125,"v":-108},{"d":168,"h":0.5125,"v":-107},{"d":172,"h":0.5125,"v":-105},{"d":176,"h":0.5125,"v":-104},
{"d":40,"h":0.5375,"v":98},{"d":44,"h":0.5375,"v":-41},{"d":48,"h":0.5375,"v":-74},{"d":52,"h":0.5375,"v":-108},{"d":56,"h":0.5375,"v":-121},{"d":60,"h":0.5375,"v":-130},{"d":64,"h":0.5375,"v":-136},{"d":68,"h":0.5375,"v":-141},{"d":72,"h":0.5375,"v":-142},{"d":76,"h":0.5375,"v":-143},{"d":80,"h":0.5375,"v":-142},{"d":84,"h":0.5375,"v":-141},{"d":88,"h":0.5375,"v":-138},{"d":92,"h":0.5375,"v":-136},{"d":96,"h":0.5375,"v":-134},{"d":100,"h":0.5375,"v":-129},{"d":104,"h":0.5375,"v":-125},{"d":108,"h":0.5375,"v":-122},{"d":112,"h":0.5375,"v":-119},{"d":116,"h":0.5375,"v":-117},{"d":120,"h":0.5375,"v":-115},{"d":124,"h":0.5375,"v":-112},{"d":128,"h":0.5375,"v":-111},{"d":132,"h":0.5375,"v":-112},{"d":136,"h":0.5375,"v":-113},{"d":140,"h":0.5375,"v":-114},{"d":144,"h":0.5375,"v":-115},{"d":148,"h":0.5375,"v":-115},{"d":152,"h":0.5375,"v":-114},{"d":156,"h":0.5375,"v":-114},{"d":160,"h":0.5375,"v":-114},{"d":164,"h":0.5375,"v":-113},{"d":168,"h":0.5375,"v":-112},{"d":172,"h":0.5375,"v":-110},{"d":176,"h":0.5375,"v":-108},
{"d":40,"h":0.5625,"v":95},{"d":44,"h":0.5625,"v":-79},{"d":48,"h":0.5625,"v":-100},{"d":52,"h":0.5625,"v":-127},{"d":56,"h":0.5625,"v":-137},{"d":60,"h":0.5625,"v":-142},{"d":64,"h":0.5625,"v":-145},{"d":68,"h":0.5625,"v":-148},{"d":72,"h":0.5625,"v":-150},{"d":76,"h":0.5625,"v":-151},{"d":80,"h":0.5625,"v":-150},{"d":84,"h":0.5625,"v":-149},{"d":88,"h":0.5625,"v":-143},{"d":92,"h":0.5625,"v":-142},{"d":96,"h":0.5625,"v":-140},{"d":100,"h":0.5625,"v":-137},{"d":104,"h":0.5625,"v":-134},{"d":108,"h":0.5625,"v":-130},{"d":112,"h":0.5625,"v":-127},{"d":116,"h":0.5625,"v":-124},{"d":120,"h":0.5625,"v":-121},{"d":124,"h":0.5625,"v":-118},{"d":128,"h":0.5625,"v":-116},{"d":132,"h":0.5625,"v":-116},{"d":136,"h":0.5625,"v":-117},{"d":140,"h":0.5625,"v":-118},{"d":144,"h":0.5625,"v":-119},{"d":148,"h":0.5625,"v":-118},{"d":152,"h":0.5625,"v":-118},{"d":156,"h":0.5625,"v":-117},{"d":160,"h":0.5625,"v":-117},{"d":164,"h":0.5625,"v":-116},{"d":168,"h":0.5625,"v":-115},{"d":172,"h":0.5625,"v":-114},{"d":176,"h":0.5625,"v":-111},
{"d":40,"h":0.5875,"v":90},{"d":44,"h":0.5875,"v":-107},{"d":48,"h":0.5875,"v":-133},{"d":52,"h":0.5875,"v":-143},{"d":56,"h":0.5875,"v":-148},{"d":60,"h":0.5875,"v":-152},{"d":64,"h":0.5875,"v":-154},{"d":68,"h":0.5875,"v":-156},{"d":72,"h":0.5875,"v":-157},{"d":76,"h":0.5875,"v":-158},{"d":80,"h":0.5875,"v":-157},{"d":84,"h":0.5875,"v":-157},{"d":88,"h":0.5875,"v":-149},{"d":92,"h":0.5875,"v":-148},{"d":96,"h":0.5875,"v":-146},{"d":100,"h":0.5875,"v":-144},{"d":104,"h":0.5875,"v":-141},{"d":108,"h":0.5875,"v":-137},{"d":112,"h":0.5875,"v":-134},{"d":116,"h":0.5875,"v":-131},{"d":120,"h":0.5875,"v":-127},{"d":124,"h":0.5875,"v":-124},{"d":128,"h":0.5875,"v":-121},{"d":132,"h":0.5875,"v":-120},{"d":136,"h":0.5875,"v":-120},{"d":140,"h":0.5875,"v":-120},{"d":144,"h":0.5875,"v":-120},{"d":148,"h":0.5875,"v":-119},{"d":152,"h":0.5875,"v":-119},{"d":156,"h":0.5875,"v":-118},{"d":160,"h":0.5875,"v":-117},{"d":164,"h":0.5875,"v":-117},{"d":168,"h":0.5875,"v":-116},{"d":172,"h":0.5875,"v":-115},{"d":176,"h":0.5875,"v":-114},
{"d":40,"h":0.6125,"v":60},{"d":44,"h":0.6125,"v":-132},{"d":48,"h":0.6125,"v":-150},{"d":52,"h":0.6125,"v":-156},{"d":56,"h":0.6125,"v":-159},{"d":60,"h":0.6125,"v":-161},{"d":64,"h":0.6125,"v":-163},{"d":68,"h":0.6125,"v":-164},{"d":72,"h":0.6125,"v":-165},{"d":76,"h":0.6125,"v":-165},{"d":80,"h":0.6125,"v":-165},{"d":84,"h":0.6125,"v":-165},{"d":88,"h":0.6125,"v":-154},{"d":92,"h":0.6125,"v":-153},{"d":96,"h":0.6125,"v":-152},{"d":100,"h":0.6125,"v":-150},{"d":104,"h":0.6125,"v":-148},{"d":108,"h":0.6125,"v":-143},{"d":112,"h":0.6125,"v":-140},{"d":116,"h":0.6125,"v":-138},{"d":120,"h":0.6125,"v":-134},{"d":124,"h":0.6125,"v":-129},{"d":128,"h":0.6125,"v":-125},{"d":132,"h":0.6125,"v":-124},{"d":136,"h":0.6125,"v":-122},{"d":140,"h":0.6125,"v":-122},{"d":144,"h":0.6125,"v":-121},{"d":148,"h":0.6125,"v":-120},{"d":152,"h":0.6125,"v":-119},{"d":156,"h":0.6125,"v":-118},{"d":160,"h":0.6125,"v":-117},{"d":164,"h":0.6125,"v":-117},{"d":168,"h":0.6125,"v":-116},{"d":172,"h":0.6125,"v":-116},{"d":176,"h":0.6125,"v":-115}
],
"stripR":[{"h":1.02,"a":114.5,"b":118},{"h":1.418,"a":98.7,"b":102.2}],
"stripB":[{"h":1.02,"a":118,"b":121.5},{"h":1.418,"a":102.2,"b":105.7}],
"corner":[{"d":40,"h":0.395},{"d":43,"h":0.38},{"d":45.4,"h":0.349},{"d":48,"h":0.315},{"d":49.5,"h":0.3}],
"band":[{"o":1,"d":41.4,"h":0.6},{"o":2,"d":42.1,"h":0.635},{"o":3,"d":42.8,"h":0.662},{"o":4,"d":44,"h":0.67},{"o":5,"d":86.3,"h":0.67},{"o":6,"d":86.3,"h":0.731},{"o":7,"d":105.8,"h":0.731},{"o":8,"d":105.8,"h":0.78},{"o":9,"d":118,"h":0.78},{"o":10,"d":118,"h":1.02},{"o":11,"d":102.2,"h":1.418},{"o":12,"d":102.2,"h":1.5}],
"cont":[
{"s":"a1","o":1,"d":40,"h":0.812},{"s":"a1","o":2,"d":48,"h":0.826},{"s":"a1","o":3,"d":55,"h":0.837},{"s":"a1","o":4,"d":62,"h":0.849},{"s":"a1","o":5,"d":68,"h":0.862},{"s":"a1","o":6,"d":73,"h":0.872},
{"s":"a2","o":1,"d":82,"h":0.905},{"s":"a2","o":2,"d":87.6,"h":0.93},{"s":"a2","o":3,"d":93.1,"h":0.955},{"s":"a2","o":4,"d":96.5,"h":0.99},{"s":"a2","o":5,"d":98.7,"h":1.015},{"s":"a2","o":6,"d":100.8,"h":1.07},{"s":"a2","o":7,"d":101.9,"h":1.126},{"s":"a2","o":8,"d":102.5,"h":1.2},{"s":"a2","o":9,"d":101.5,"h":1.27},{"s":"a2","o":10,"d":100.2,"h":1.33},{"s":"a2","o":11,"d":99.2,"h":1.375},
{"s":"a3","o":1,"d":97.3,"h":1.43},{"s":"a3","o":2,"d":96.6,"h":1.5},
{"s":"b1","o":1,"d":42.5,"h":0.6},{"s":"b1","o":2,"d":43.5,"h":0.575},{"s":"b1","o":3,"d":45.4,"h":0.554},{"s":"b1","o":4,"d":48.6,"h":0.554},{"s":"b1","o":5,"d":52.9,"h":0.503},{"s":"b1","o":6,"d":60,"h":0.478},{"s":"b1","o":7,"d":66,"h":0.464},
{"s":"b2","o":1,"d":74,"h":0.449},{"s":"b2","o":2,"d":85,"h":0.443},{"s":"b2","o":3,"d":100,"h":0.44},{"s":"b2","o":4,"d":125,"h":0.439},{"s":"b2","o":5,"d":153,"h":0.438},
{"s":"b3","o":1,"d":158.5,"h":0.438},{"s":"b3","o":2,"d":172,"h":0.438},{"s":"b3","o":3,"d":176,"h":0.47},
{"s":"c1","o":1,"d":42,"h":0.6},{"s":"c1","o":2,"d":43,"h":0.57},{"s":"c1","o":3,"d":44.3,"h":0.537},{"s":"c1","o":4,"d":48.6,"h":0.503},{"s":"c1","o":5,"d":54.8,"h":0.469},{"s":"c1","o":6,"d":64,"h":0.443},{"s":"c1","o":7,"d":67,"h":0.438},
{"s":"c2","o":1,"d":72,"h":0.432},{"s":"c2","o":2,"d":85.7,"h":0.42},{"s":"c2","o":3,"d":110,"h":0.4},{"s":"c2","o":4,"d":130,"h":0.388},{"s":"c2","o":5,"d":151.5,"h":0.377},
{"s":"c3","o":1,"d":156.5,"h":0.377},{"s":"c3","o":2,"d":172,"h":0.377},{"s":"c3","o":3,"d":176,"h":0.386},
{"s":"d1","o":1,"d":41.5,"h":0.6},{"s":"d1","o":2,"d":42.5,"h":0.56},{"s":"d1","o":3,"d":43.3,"h":0.51},{"s":"d1","o":4,"d":48.6,"h":0.477},{"s":"d1","o":5,"d":58,"h":0.433},{"s":"d1","o":6,"d":70.4,"h":0.408},{"s":"d1","o":7,"d":83.5,"h":0.395},
{"s":"d2","o":1,"d":87,"h":0.388},{"s":"d2","o":2,"d":108,"h":0.362},{"s":"d2","o":3,"d":140,"h":0.335},{"s":"d2","o":4,"d":168.5,"h":0.323},
{"s":"d3","o":1,"d":171.5,"h":0.323},{"s":"d3","o":2,"d":176,"h":0.323},
{"s":"e1","o":1,"d":41,"h":0.6},{"s":"e1","o":2,"d":42,"h":0.55},{"s":"e1","o":3,"d":43,"h":0.503},{"s":"e1","o":4,"d":47.3,"h":0.451},{"s":"e1","o":5,"d":58,"h":0.413},{"s":"e1","o":6,"d":70.4,"h":0.382},{"s":"e1","o":7,"d":72,"h":0.374},{"s":"e1","o":8,"d":99.5,"h":0.318},
{"s":"e2","o":1,"d":102.5,"h":0.31},{"s":"e2","o":2,"d":112,"h":0.305},{"s":"e2","o":3,"d":118,"h":0.3},
{"s":"f1","o":1,"d":40.6,"h":0.613},{"s":"f1","o":2,"d":42,"h":0.56},{"s":"f1","o":3,"d":43,"h":0.52},{"s":"f1","o":4,"d":44.9,"h":0.451},{"s":"f1","o":5,"d":45.8,"h":0.43},
{"s":"f2","o":1,"d":49.5,"h":0.39},{"s":"f2","o":2,"d":51.8,"h":0.349},{"s":"f2","o":3,"d":54.2,"h":0.305},{"s":"f2","o":4,"d":54.5,"h":0.3}
],
"contb":[
{"s":"g1","o":1,"d":109.4,"h":1.5},{"s":"g1","o":2,"d":110.2,"h":1.41},
{"s":"g2","o":1,"d":113,"h":1.31},{"s":"g2","o":2,"d":114,"h":1.29},{"s":"g2","o":3,"d":118.7,"h":1.19},{"s":"g2","o":4,"d":125,"h":1.1},{"s":"g2","o":5,"d":131,"h":1.015},{"s":"g2","o":6,"d":137,"h":0.92},{"s":"g2","o":7,"d":140,"h":0.86},{"s":"g2","o":8,"d":141,"h":0.835},
{"s":"g3","o":1,"d":144,"h":0.77},{"s":"g3","o":2,"d":143.4,"h":0.751},{"s":"g3","o":3,"d":135,"h":0.69},{"s":"g3","o":4,"d":124.7,"h":0.638},{"s":"g3","o":5,"d":115,"h":0.6},{"s":"g3","o":6,"d":106,"h":0.572},{"s":"g3","o":7,"d":96,"h":0.54},{"s":"g3","o":8,"d":85.5,"h":0.52},{"s":"g3","o":9,"d":79,"h":0.513},
{"s":"g4","o":1,"d":74,"h":0.512},{"s":"g4","o":2,"d":65.4,"h":0.528},{"s":"g4","o":3,"d":55,"h":0.56},{"s":"g4","o":4,"d":46,"h":0.597},{"s":"g4","o":5,"d":44,"h":0.615}
],
"lab0":[{"t":"135","d":97.7,"h":1.4},{"t":"-135","d":111.2,"h":1.345},{"t":"90","d":111.5,"h":1.07},{"t":"-135","d":143.5,"h":0.795},{"t":"45","d":42.3,"h":0.633},{"t":"-135","d":117.5,"h":1.01},{"t":"-45","d":82,"h":0.665}],
"lab30":[{"t":"135","d":102.5,"h":1.345},{"t":"45","d":104.6,"h":1.29},{"t":"90","d":47.5,"h":0.413}],
"lab90":[{"t":"0","d":102.2,"h":1.45},{"t":"0","d":118,"h":0.867},{"t":"135","d":110,"h":0.785},{"t":"0","d":56.5,"h":0.672},{"t":"-135","d":76.5,"h":0.515},{"t":"-45","d":69.3,"h":0.43},{"t":"0","d":85.2,"h":0.39},{"t":"45","d":100.9,"h":0.31},{"t":"-45","d":154,"h":0.377},{"t":"0","d":170,"h":0.323}],
"lab270":[{"t":"-90","d":70.5,"h":0.458},{"t":"-90","d":155.7,"h":0.44}],
"labm60":[{"t":"135","d":77.5,"h":0.89},{"t":"135","d":41.3,"h":0.69},{"t":"90","d":84.5,"h":0.69}],
"frag":[{"t":"5","d":24.3,"h":1.4205},{"t":"5","d":24.3,"h":1.2718},{"t":"5","d":24.3,"h":0.869},{"t":"5","d":24.3,"h":0.682},{"t":"5","d":24.3,"h":0.5026}],
"phi":[{"t":"φ","d":165.6,"h":1.317}],
"up":[{"t":"5","d":144.6,"h":0.5077},{"t":"m","d":159.9,"h":0.5077}],
"mu":[{"t":"μ","d":153.5,"h":0.5077}],
"bar":[{"d":161.4,"h":0.426,"h2":0.1}]
},
"layer":[
{"data":{"name":"grid"},
"transform":[
{"bin":{"step":4,"extent":[38,178],"nice":false},"field":"d","as":["d0","d1"]},
{"bin":{"step":0.05,"extent":[0.275,1.525],"nice":false},"field":"h","as":["h0","h1"]}],
"mark":{"type":"rect","clip":true,"strokeWidth":0.6},
"encoding":{
"x":{"field":"d0","type":"quantitative","scale":{"domain":[40,176],"nice":false,"zero":false},"axis":{"title":"Δ(°)","values":[40,50,60,70,80,90,100,110,120,130,140,150,160,170],"tickCount":20,"labelPadding":16,"titlePadding":8,"format":"d","labelOverlap":false}},
"x2":{"field":"d1"},
"y":{"field":"h0","type":"quantitative","scale":{"domain":[0.3,1.5],"nice":false,"zero":false},"axis":{"title":"h/2 (μm)","values":[0.3,0.4,0.5,0.6,0.7,0.8,0.9,1,1.1,1.2,1.3,1.4,1.5],"tickCount":20,"format":".1~f","labelPadding":8,"titlePadding":22,"labelOverlap":false}},
"y2":{"field":"h1"},
"fill":{"field":"v","type":"quantitative","scale":{"domain":[-180,0,180],"range":["#0000ff","#ffffff","#ff0000"],"interpolate":"rgb"},"legend":null},
"stroke":{"field":"v","type":"quantitative","scale":{"domain":[-180,0,180],"range":["#0000ff","#ffffff","#ff0000"],"interpolate":"rgb"},"legend":null}}},
{"data":{"name":"fine"},
"transform":[
{"bin":{"step":4,"extent":[38,178],"nice":false},"field":"d","as":["d0","d1"]},
{"bin":{"step":0.025,"extent":[0.3,0.625],"nice":false},"field":"h","as":["h0","h1"]}],
"mark":{"type":"rect","clip":true,"strokeWidth":0.6},
"encoding":{
"x":{"field":"d0","type":"quantitative"},
"x2":{"field":"d1"},
"y":{"field":"h0","type":"quantitative"},
"y2":{"field":"h1"},
"fill":{"field":"v","type":"quantitative","scale":{"domain":[-180,0,180],"range":["#0000ff","#ffffff","#ff0000"],"interpolate":"rgb"},"legend":null},
"stroke":{"field":"v","type":"quantitative","scale":{"domain":[-180,0,180],"range":["#0000ff","#ffffff","#ff0000"],"interpolate":"rgb"},"legend":null}}},
{"data":{"name":"lg"},"mark":{"type":"point","opacity":0,"size":0},
"encoding":{"color":{"field":"v","type":"quantitative","scale":{"domain":[-180,0,180.0001],"range":["#0000ff","#ffffff","#ff0000"],"interpolate":"rgb"},
"legend":{"type":"gradient","orient":"none","legendX":741,"legendY":0,"direction":"vertical","gradientLength":469,"gradientThickness":11,"values":[180,135,90,45,0,-45,-90,-135,-180],"title":null,"labelFont":"Liberation Sans","labelFontSize":19,"labelColor":"#222","labelOffset":9,"gradientStrokeColor":"#333","gradientStrokeWidth":1,"labelOverlap":false,"labelBaseline":"middle"}}}},
{"data":{"name":"stripR"},"mark":{"type":"area","orient":"horizontal","color":"#ff1616","clip":true},
"encoding":{"y":{"field":"h","type":"quantitative"},"x":{"field":"a","type":"quantitative"},"x2":{"field":"b"}}},
{"data":{"name":"stripB"},"mark":{"type":"area","orient":"horizontal","color":"#0707ff","clip":true},
"encoding":{"y":{"field":"h","type":"quantitative"},"x":{"field":"a","type":"quantitative"},"x2":{"field":"b"}}},
{"data":{"name":"corner"},"mark":{"type":"area","color":"#ffffff","interpolate":"monotone","clip":true},
"encoding":{"x":{"field":"d","type":"quantitative"},"y":{"field":"h","type":"quantitative"},"y2":{"datum":0.3}}},
{"data":{"name":"band"},"mark":{"type":"line","stroke":"#858585","strokeWidth":13,"strokeJoin":"miter","strokeCap":"butt","clip":true},
"encoding":{"x":{"field":"d","type":"quantitative"},"y":{"field":"h","type":"quantitative"},"order":{"field":"o"}}},
{"data":{"name":"band"},"mark":{"type":"line","stroke":"#b8b8b8","strokeWidth":7,"strokeJoin":"miter","strokeCap":"butt","clip":true},
"encoding":{"x":{"field":"d","type":"quantitative"},"y":{"field":"h","type":"quantitative"},"order":{"field":"o"}}},
{"data":{"name":"band"},"mark":{"type":"line","stroke":"#eeeeee","strokeWidth":2,"strokeJoin":"miter","strokeCap":"butt","clip":true},
"encoding":{"x":{"field":"d","type":"quantitative"},"y":{"field":"h","type":"quantitative"},"order":{"field":"o"}}},
{"data":{"name":"cont"},"mark":{"type":"line","stroke":"#1a1a1a","strokeWidth":1.3,"opacity":0.85,"clip":true},
"encoding":{"x":{"field":"d","type":"quantitative"},"y":{"field":"h","type":"quantitative"},"detail":{"field":"s"},"order":{"field":"o"}}},
{"data":{"name":"contb"},"mark":{"type":"line","stroke":"#303060","strokeWidth":1.3,"opacity":0.5,"clip":true},
"encoding":{"x":{"field":"d","type":"quantitative"},"y":{"field":"h","type":"quantitative"},"detail":{"field":"s"},"order":{"field":"o"}}},
{"data":{"name":"lab0"},"mark":{"type":"text","font":"DejaVu Sans","fontSize":12,"fontStyle":"italic","color":"#151515","angle":0},
"encoding":{"x":{"field":"d","type":"quantitative"},"y":{"field":"h","type":"quantitative"},"text":{"field":"t"}}},
{"data":{"name":"lab30"},"mark":{"type":"text","font":"DejaVu Sans","fontSize":12,"fontStyle":"italic","color":"#151515","angle":30},
"encoding":{"x":{"field":"d","type":"quantitative"},"y":{"field":"h","type":"quantitative"},"text":{"field":"t"}}},
{"data":{"name":"lab90"},"mark":{"type":"text","font":"DejaVu Sans","fontSize":12,"fontStyle":"italic","color":"#151515","angle":90},
"encoding":{"x":{"field":"d","type":"quantitative"},"y":{"field":"h","type":"quantitative"},"text":{"field":"t"}}},
{"data":{"name":"lab270"},"mark":{"type":"text","font":"DejaVu Sans","fontSize":12,"fontStyle":"italic","color":"#151515","angle":270},
"encoding":{"x":{"field":"d","type":"quantitative"},"y":{"field":"h","type":"quantitative"},"text":{"field":"t"}}},
{"data":{"name":"labm60"},"mark":{"type":"text","font":"DejaVu Sans","fontSize":12,"fontStyle":"italic","color":"#151515","angle":290},
"encoding":{"x":{"field":"d","type":"quantitative"},"y":{"field":"h","type":"quantitative"},"text":{"field":"t"}}},
{"data":{"name":"frag"},"mark":{"type":"text","font":"Liberation Sans","fontSize":20,"color":"#222","align":"right","baseline":"middle","clip":false},
"encoding":{"x":{"field":"d","type":"quantitative"},"y":{"field":"h","type":"quantitative"},"text":{"field":"t"}}},
{"data":{"name":"phi"},"mark":{"type":"text","font":"Liberation Serif","fontSize":64,"fontWeight":"bold","fontStyle":"italic","color":"#000","align":"center","baseline":"alphabetic"},
"encoding":{"x":{"field":"d","type":"quantitative"},"y":{"field":"h","type":"quantitative"},"text":{"field":"t"}}},
{"data":{"name":"up"},"mark":{"type":"text","font":"Liberation Serif","fontSize":64,"fontWeight":"bold","color":"#000","align":"left","baseline":"alphabetic"},
"encoding":{"x":{"field":"d","type":"quantitative"},"y":{"field":"h","type":"quantitative"},"text":{"field":"t"}}},
{"data":{"name":"mu"},"mark":{"type":"text","font":"Liberation Serif","fontSize":64,"fontWeight":"bold","fontStyle":"italic","color":"#000","align":"left","baseline":"alphabetic"},
"encoding":{"x":{"field":"d","type":"quantitative"},"y":{"field":"h","type":"quantitative"},"text":{"field":"t"}}},
{"data":{"name":"bar"},"mark":{"type":"rule","color":"#000","strokeWidth":16,"clip":false},
"encoding":{"x":{"field":"d","type":"quantitative"},"y":{"field":"h","type":"quantitative"},"y2":{"field":"h2"}}}
]
}
